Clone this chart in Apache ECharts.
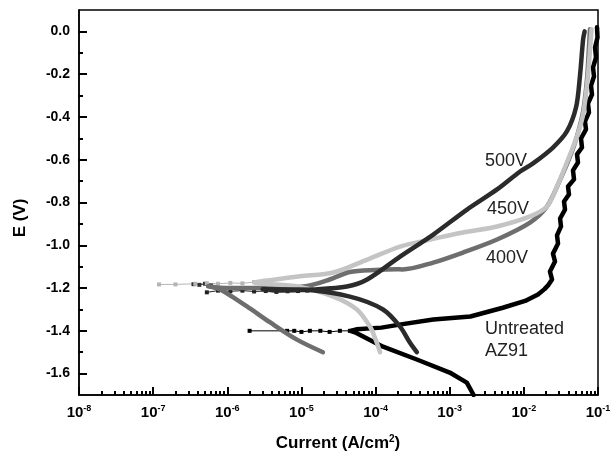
<!DOCTYPE html>
<html>
<head>
<meta charset="utf-8">
<script src="https://cdn.jsdelivr.net/npm/echarts@6/dist/echarts.min.js"></script>
<style>
html, body { margin: 0; padding: 0; background: #fff; }
#grafico { width: 616px; height: 458px; }
</style>
</head>
<body>
<div id="grafico"></div>
<script>
// Ticks del eje Y (E en V)
const ticksY = [0, -0.2, -0.4, -0.6, -0.8, -1.0, -1.2, -1.4, -1.6];
const ticksYMenores = [-0.1, -0.3, -0.5, -0.7, -0.9, -1.1, -1.3, -1.5];
const decadas = [-8, -7, -6, -5, -4, -3, -2, -1];

// Untreated AZ91 - puntos cerca de Ecorr
const az91CercaI = [2.0e-6, 6.4e-6, 8.0e-6, 1.0e-5, 1.3e-5, 1.8e-5, 2.4e-5, 3.3e-5, 4.5e-5];
const az91CercaE = [-1.40, -1.40, -1.40, -1.405, -1.40, -1.40, -1.405, -1.40, -1.40];
// Untreated AZ91 - rama catódica + anódica
const az91I = [2.1e-3, 1.7e-3, 1.0e-3, 3.6e-4, 1.26e-4, 5.5e-5, 4.6e-5, 5.5e-5, 1.2e-4, 2.1e-4, 6.0e-4, 1.9e-3, 5.2e-3, 1.04e-2, 1.55e-2, 1.9e-2, 2.15e-2,
  0.0240, 0.0225, 0.0263, 0.0247, 0.0289, 0.0280, 0.0317, 0.0308, 0.0359, 0.0348, 0.0406, 0.0394, 0.0475, 0.0460, 0.0537, 0.0521,
  0.0608, 0.0590, 0.0689, 0.0668, 0.0756, 0.0733, 0.0830, 0.0805, 0.0883, 0.0857, 0.0940, 0.0912, 0.0985, 0.0970];
const az91E = [-1.70, -1.642, -1.595, -1.534, -1.474, -1.41, -1.40, -1.393, -1.385, -1.371, -1.347, -1.333, -1.292, -1.260, -1.230, -1.205, -1.185,
  -1.160, -1.123, -1.076, -1.039, -0.992, -0.954, -0.912, -0.875, -0.833, -0.795, -0.762, -0.725, -0.692, -0.650, -0.613, -0.575,
  -0.543, -0.501, -0.458, -0.421, -0.379, -0.337, -0.295, -0.253, -0.211, -0.168, -0.122, -0.075, -0.028, 0.019];

// 400V
const v400CercaI = [3.5e-7, 4.2e-7, 5.0e-7, 6.0e-7];
const v400CercaE = [-1.182, -1.185, -1.180, -1.188];
const v400I = [1.95e-5, 8.7e-6, 3.8e-6, 1.84e-6, 8.0e-7, 5.5e-7, 8.0e-7, 2.0e-6, 5.0e-6, 1.2e-5, 2.4e-5, 4.5e-5, 1.0e-4, 1.9e-4, 2.3e-4,
  6.0e-4, 1.51e-3, 4.35e-3, 1.21e-2, 2.05e-2, 3.1e-2, 4.2e-2, 5.2e-2, 6.3e-2, 7.1e-2, 7.6e-2, 7.8e-2];
const v400E = [-1.50, -1.441, -1.361, -1.286, -1.207, -1.192, -1.198, -1.20, -1.198, -1.19, -1.16, -1.125, -1.115, -1.112, -1.113,
  -1.081, -1.034, -0.973, -0.894, -0.819, -0.692, -0.585, -0.491, -0.374, -0.225, -0.06, 0.01];

// 450V
const v450CercaI = [1.2e-7, 2.0e-7, 3.7e-7, 5.3e-7, 7.5e-7, 1.1e-6, 1.6e-6, 2.3e-6];
const v450CercaE = [-1.183, -1.183, -1.180, -1.178, -1.180, -1.176, -1.178, -1.172];
const v450I = [1.15e-4, 1.0e-4, 8.4e-5, 5.6e-5, 2.7e-5, 9.6e-6, 4.0e-6, 2.3e-6, 4.0e-6, 9.6e-6, 2.7e-5, 7.7e-5, 2.14e-4, 5.4e-4,
  1.51e-3, 4.35e-3, 1.21e-2, 2.05e-2, 2.8e-2, 3.8e-2, 5.2e-2, 6.3e-2, 7.3e-2, 7.9e-2, 8.2e-2];
const v450E = [-1.50, -1.44, -1.38, -1.30, -1.24, -1.195, -1.182, -1.175, -1.162, -1.145, -1.127, -1.067, -1.006, -0.973,
  -0.940, -0.912, -0.865, -0.819, -0.725, -0.613, -0.491, -0.388, -0.211, -0.06, 0.01];

// 500V
const v500CercaI = [5.3e-7, 7.5e-7, 1.1e-6, 1.6e-6, 2.3e-6, 3.3e-6, 4.6e-6, 6.5e-6, 9.0e-6, 1.2e-5];
const v500CercaE = [-1.22, -1.212, -1.215, -1.212, -1.216, -1.214, -1.218, -1.215, -1.214, -1.212];
const v500I = [3.6e-4, 2.9e-4, 2.14e-4, 1.26e-4, 4.5e-5, 9.6e-6, 3.0e-6, 5.0e-6, 1.43e-5, 4.1e-5, 7.7e-5, 2.14e-4, 6.0e-4,
  1.71e-3, 4.35e-3, 8.9e-3, 1.33e-2, 2.47e-2, 3.8e-2, 5.06e-2, 5.7e-2, 6.3e-2, 6.6e-2];
const v500E = [-1.50, -1.455, -1.38, -1.30, -1.24, -1.207, -1.205, -1.212, -1.207, -1.193, -1.16, -1.053, -0.95,
  -0.833, -0.739, -0.655, -0.617, -0.543, -0.468, -0.355, -0.211, -0.037, 0.0];

// Ticks menores del eje logarítmico (2..9 en cada década)
const ticksXMenores = [];
decadas.slice(0, -1).forEach(d => {
    for (let k = 2; k <= 9; k++) ticksXMenores.push(d + Math.log10(k));
});

function pares(xs, ys) {
    return xs.map((v, i) => [v, ys[i]]);
}

function curva(nombre, xs, ys, color, ancho, suave) {
    return {
        name: nombre, type: 'line', data: pares(xs, ys),
        symbol: 'none', smooth: suave, z: 3,
        lineStyle: { color: color, width: ancho, cap: 'round', join: 'round' }
    };
}

function cerca(nombre, xs, ys, color) {
    return {
        name: nombre, type: 'line', data: pares(xs, ys),
        symbol: 'rect', symbolSize: 4, showSymbol: true, z: 2,
        itemStyle: { color: color },
        lineStyle: { color: color, width: 1 }
    };
}

// objetos nuevos en cada eje (no compartir referencias)
function tick(largo, valores) {
    let t = { show: true, inside: true, length: largo, lineStyle: { color: '#000', width: 2 } };
    if (valores) t.customValues = valores;
    return t;
}

const fuente = 'Liberation Sans, Arial, sans-serif';

let grafico = echarts.init(document.getElementById('grafico'));
grafico.setOption({
    animation: false,
    grid: [
        { left: 79, top: 10, right: 18, bottom: 63, show: true, borderColor: '#000', borderWidth: 1.5 },
        // segunda rejilla, solo para los ticks menores
        { left: 79, top: 10, right: 18, bottom: 63 }
    ],
    xAxis: [
        {
            type: 'log', logBase: 10, min: 1e-8, max: 1e-1, gridIndex: 0,
            axisLine: { onZero: false, lineStyle: { color: '#000', width: 1.5 } },
            axisTick: tick(8),
            splitLine: { show: false },
            axisLabel: {
                margin: 9, fontFamily: fuente, fontSize: 14, fontWeight: 'bold', color: '#000',
                formatter: v => '{b|10}{s|' + Math.round(Math.log10(v)) + '}',
                rich: {
                    b: { fontSize: 15, fontWeight: 'bold', color: '#000', fontFamily: fuente, lineHeight: 17 },
                    s: { fontSize: 9, fontWeight: 'bold', color: '#000', fontFamily: fuente, lineHeight: 10, verticalAlign: 'top' }
                }
            }
        },
        {
            type: 'value', min: -8, max: -1, gridIndex: 1, position: 'bottom',
            axisLine: { show: false, onZero: false },
            axisTick: tick(4, ticksXMenores),
            axisLabel: { show: false },
            splitLine: { show: false }
        }
    ],
    yAxis: [
        {
            type: 'value', min: -1.7, max: 0.1, gridIndex: 0,
            axisLine: { onZero: false, lineStyle: { color: '#000', width: 1.5 } },
            axisTick: tick(8, ticksY),
            splitLine: { show: false },
            axisLabel: {
                customValues: ticksY, margin: 9,
                fontSize: 14, fontWeight: 'bold', color: '#000', fontFamily: fuente,
                formatter: v => (Math.abs(v) < 1e-9 ? 0 : v).toFixed(1)
            }
        },
        {
            type: 'value', min: -1.7, max: 0.1, gridIndex: 1,
            axisLine: { show: false, onZero: false },
            axisTick: tick(4, ticksYMenores),
            axisLabel: { show: false },
            splitLine: { show: false }
        }
    ],
    series: [
        cerca('AZ91 Ecorr', az91CercaI, az91CercaE, '#000'),
        curva('Untreated AZ91', az91I, az91E, '#000', 4.5, false),
        cerca('400V Ecorr', v400CercaI, v400CercaE, '#333'),
        curva('400V', v400I, v400E, '#6e6e6e', 4.5, 0.3),
        cerca('450V Ecorr', v450CercaI, v450CercaE, '#b5b5b5'),
        curva('450V', v450I, v450E, '#c4c4c4', 4.5, 0.3),
        cerca('500V Ecorr', v500CercaI, v500CercaE, '#222'),
        curva('500V', v500I, v500E, '#2b2b2b', 4.5, 0.3)
    ],
    graphic: [
        { type: 'text', left: 485, top: 152, style: { text: '500V', fontSize: 18, fontFamily: fuente, fill: '#222' } },
        { type: 'text', left: 487, top: 200, style: { text: '450V', fontSize: 18, fontFamily: fuente, fill: '#222' } },
        { type: 'text', left: 486, top: 249, style: { text: '400V', fontSize: 18, fontFamily: fuente, fill: '#222' } },
        { type: 'text', left: 485, top: 318, style: { text: 'Untreated\nAZ91', fontSize: 18, lineHeight: 22, fontFamily: fuente, fill: '#222' } },
        {
            type: 'text', x: 20, y: 218, rotation: Math.PI / 2,
            style: { text: 'E (V)', fontSize: 17, fontWeight: 'bold', fontFamily: fuente, fill: '#000', align: 'center', verticalAlign: 'middle' }
        },
        {
            type: 'text', x: 338, y: 443,
            style: {
                text: 'Current (A/cm{s|2})', fontSize: 17, fontWeight: 'bold', fontFamily: fuente, fill: '#000',
                align: 'center', verticalAlign: 'middle',
                rich: { s: { fontSize: 10, fontWeight: 'bold', fontFamily: fuente, verticalAlign: 'top', lineHeight: 10 } }
            }
        }
    ]
});
</script>
</body>
</html>
